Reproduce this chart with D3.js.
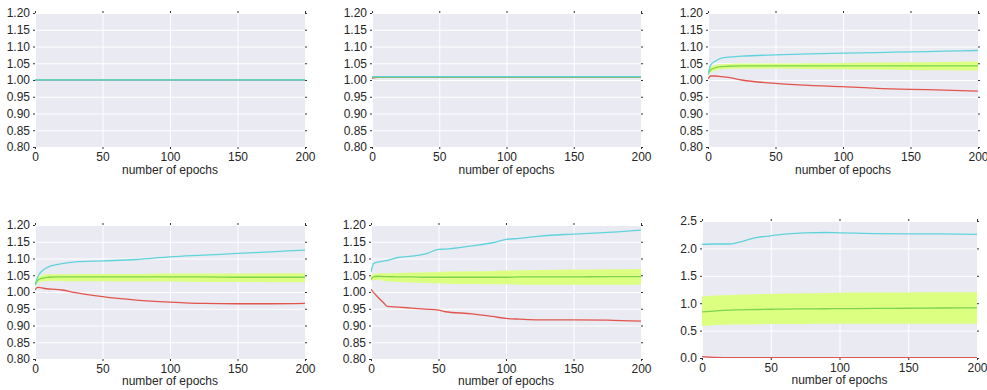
<!DOCTYPE html>
<html>
<head>
<meta charset="utf-8">
<script src="https://cdn.jsdelivr.net/npm/d3@7"></script>
<style>
  body { margin: 0; background: #fff; }
  text { font-family: "Liberation Sans", Arial, sans-serif; }
</style>
</head>
<body>
<svg id="chart" width="987" height="390"></svg>
<script>
// tick values
const xTicks = [0, 50, 100, 150, 200];
const yTicksFine = [0.80, 0.85, 0.90, 0.95, 1.00, 1.05, 1.10, 1.15, 1.20];
const yTicksWide = [0.0, 0.5, 1.0, 1.5, 2.0, 2.5];
const xLabel = 'number of epochs';

// panel 1
const p1Epochs = [0, 200];
const p1Cyan = [1.000, 1.000];
const p1Red = [1.000, 1.000];
const p1Mean = [1.0012, 1.0012];
const p1Lo = [1.0006, 1.0006];
const p1Hi = [1.0018, 1.0018];

// panel 2
const p2Epochs = [0, 2, 5, 200];
const p2Cyan = [1.009, 1.010, 1.010, 1.010];
const p2Red = [1.005, 1.007, 1.008, 1.008];
const p2Mean = [1.008, 1.009, 1.009, 1.009];
const p2Lo = [1.007, 1.008, 1.008, 1.008];
const p2Hi = [1.009, 1.010, 1.010, 1.010];

// panel 3
const p3Epochs = [0, 2, 5, 10, 15, 25, 50, 75, 100, 125, 150, 175, 200];
const p3Cyan = [1.015, 1.045, 1.055, 1.065, 1.068, 1.071, 1.075, 1.078, 1.080, 1.082, 1.084, 1.086, 1.088];
const p3Red = [1.003, 1.012, 1.012, 1.010, 1.008, 1.000, 0.990, 0.984, 0.980, 0.975, 0.972, 0.970, 0.967];
const p3Mean = [1.020, 1.030, 1.036, 1.040, 1.041, 1.042, 1.042, 1.042, 1.042, 1.042, 1.042, 1.042, 1.042];
const p3Lo = [1.015, 1.022, 1.028, 1.032, 1.033, 1.034, 1.034, 1.033, 1.032, 1.031, 1.030, 1.029, 1.028];
const p3Hi = [1.025, 1.038, 1.044, 1.047, 1.048, 1.049, 1.049, 1.050, 1.051, 1.052, 1.053, 1.054, 1.055];

// panel 4
const p4Epochs = [0, 2, 5, 10, 15, 20, 30, 50, 75, 100, 125, 150, 175, 200];
const p4Cyan = [1.021, 1.045, 1.062, 1.075, 1.081, 1.085, 1.090, 1.093, 1.097, 1.105, 1.110, 1.115, 1.120, 1.125];
const p4Red = [1.006, 1.014, 1.012, 1.009, 1.008, 1.006, 0.998, 0.986, 0.976, 0.970, 0.966, 0.965, 0.965, 0.966];
const p4Mean = [1.020, 1.035, 1.041, 1.044, 1.045, 1.045, 1.045, 1.045, 1.045, 1.045, 1.045, 1.044, 1.044, 1.044];
const p4Lo = [1.015, 1.026, 1.031, 1.033, 1.033, 1.033, 1.032, 1.032, 1.031, 1.031, 1.030, 1.030, 1.029, 1.029];
const p4Hi = [1.025, 1.043, 1.050, 1.053, 1.053, 1.053, 1.054, 1.054, 1.054, 1.055, 1.055, 1.055, 1.056, 1.056];

// panel 5
const p5Epochs = [0, 2, 5, 10, 12, 20, 30, 40, 50, 55, 75, 90, 100, 110, 125, 150, 175, 200];
const p5Cyan = [1.060, 1.085, 1.089, 1.093, 1.094, 1.103, 1.107, 1.113, 1.127, 1.128, 1.138, 1.147, 1.157, 1.160, 1.167, 1.173, 1.178, 1.185];
const p5Red = [1.008, 0.998, 0.985, 0.965, 0.957, 0.955, 0.952, 0.949, 0.946, 0.941, 0.935, 0.927, 0.921, 0.919, 0.917, 0.917, 0.916, 0.913];
const p5Mean = [1.038, 1.046, 1.047, 1.046, 1.046, 1.045, 1.045, 1.044, 1.044, 1.044, 1.044, 1.044, 1.044, 1.045, 1.045, 1.045, 1.046, 1.046];
const p5Lo = [1.032, 1.036, 1.036, 1.033, 1.032, 1.030, 1.028, 1.027, 1.026, 1.025, 1.024, 1.023, 1.023, 1.022, 1.022, 1.022, 1.022, 1.022];
const p5Hi = [1.045, 1.054, 1.055, 1.056, 1.056, 1.057, 1.058, 1.059, 1.060, 1.061, 1.062, 1.063, 1.064, 1.065, 1.066, 1.067, 1.068, 1.069];

// panel 6
const p6Epochs = [0, 10, 20, 25, 40, 50, 60, 75, 90, 100, 125, 150, 175, 200];
const p6Cyan = [2.075, 2.080, 2.080, 2.100, 2.200, 2.230, 2.260, 2.285, 2.290, 2.285, 2.270, 2.265, 2.265, 2.255];
const p6Red = [0.025, 0.010, 0.006, 0.006, 0.006, 0.006, 0.006, 0.006, 0.006, 0.006, 0.006, 0.006, 0.006, 0.006];
const p6Mean = [0.840, 0.860, 0.875, 0.880, 0.885, 0.890, 0.893, 0.896, 0.899, 0.900, 0.905, 0.908, 0.912, 0.915];
const p6Lo = [0.580, 0.600, 0.610, 0.610, 0.615, 0.620, 0.620, 0.622, 0.624, 0.625, 0.625, 0.625, 0.625, 0.625];
const p6Hi = [1.120, 1.140, 1.150, 1.155, 1.165, 1.170, 1.175, 1.180, 1.185, 1.190, 1.195, 1.197, 1.200, 1.200];

const panels = [
  { left: 35, right: 305, top: 13, bottom: 147, labelDy: 27, yDomain: [0.8, 1.2], yTicks: yTicksFine, fmt: '.2f',
    epochs: p1Epochs, cyan: p1Cyan, red: p1Red, mean: p1Mean, lo: p1Lo, hi: p1Hi },
  { left: 372, right: 641, top: 13, bottom: 147, labelDy: 27, yDomain: [0.8, 1.2], yTicks: yTicksFine, fmt: '.2f',
    epochs: p2Epochs, cyan: p2Cyan, red: p2Red, mean: p2Mean, lo: p2Lo, hi: p2Hi },
  { left: 708, right: 978, top: 13, bottom: 147, labelDy: 27, yDomain: [0.8, 1.2], yTicks: yTicksFine, fmt: '.2f',
    epochs: p3Epochs, cyan: p3Cyan, red: p3Red, mean: p3Mean, lo: p3Lo, hi: p3Hi },
  { left: 35, right: 305, top: 225, bottom: 359, labelDy: 26, yDomain: [0.8, 1.2], yTicks: yTicksFine, fmt: '.2f',
    epochs: p4Epochs, cyan: p4Cyan, red: p4Red, mean: p4Mean, lo: p4Lo, hi: p4Hi },
  { left: 371, right: 641, top: 225, bottom: 359, labelDy: 26, yDomain: [0.8, 1.2], yTicks: yTicksFine, fmt: '.2f',
    epochs: p5Epochs, cyan: p5Cyan, red: p5Red, mean: p5Mean, lo: p5Lo, hi: p5Hi },
  { left: 702, right: 977, top: 221, bottom: 358, labelDy: 26, yDomain: [0, 2.5], yTicks: yTicksWide, fmt: '.1f',
    epochs: p6Epochs, cyan: p6Cyan, red: p6Red, mean: p6Mean, lo: p6Lo, hi: p6Hi },
];

const svg = d3.select('#chart');

panels.forEach((p) => {
  const w = p.right - p.left, h = p.bottom - p.top;
  const g = svg.append('g').attr('transform', `translate(${p.left},${p.top})`);

  const x = d3.scaleLinear().domain([0, 200]).range([0, w]);
  const y = d3.scaleLinear().domain(p.yDomain).range([h, 0]);

  g.append('rect').attr('width', w).attr('height', h).attr('fill', '#eaeaf2');

  // white grid
  g.append('g')
    .attr('transform', `translate(0,${h})`)
    .call(d3.axisBottom(x).tickValues(xTicks).tickSize(-h).tickFormat(''))
    .call((a) => a.select('.domain').remove())
    .call((a) => a.selectAll('line').attr('stroke', '#fff').attr('stroke-width', 1));
  g.append('g')
    .call(d3.axisLeft(y).tickValues(p.yTicks).tickSize(-w).tickFormat(''))
    .call((a) => a.select('.domain').remove())
    .call((a) => a.selectAll('line').attr('stroke', '#fff').attr('stroke-width', 1));

  const rows = p.epochs.map((e, i) => ({
    e, cyan: p.cyan[i], red: p.red[i], mean: p.mean[i], lo: p.lo[i], hi: p.hi[i],
  }));

  const clip = 'clip' + p.left + '_' + p.top;
  g.append('clipPath').attr('id', clip).append('rect').attr('width', w).attr('height', h);
  const marks = g.append('g').attr('clip-path', `url(#${clip})`);

  const band = d3.area()
    .x((d) => x(d.e)).y0((d) => y(d.lo)).y1((d) => y(d.hi))
    .curve(d3.curveMonotoneX);
  marks.append('path').datum(rows).attr('d', band).attr('fill', '#dcff82');

  const line = (key) => d3.line().x((d) => x(d.e)).y((d) => y(d[key])).curve(d3.curveMonotoneX);
  [['red', '#e2554c'], ['mean', '#7ed44e'], ['cyan', '#5fd3dc']].forEach(([key, col]) => {
    marks.append('path').datum(rows)
      .attr('d', line(key))
      .attr('fill', 'none')
      .attr('stroke', col)
      .attr('stroke-width', 1.3);
  });

  // tick labels and small outer tick marks
  const styleAxis = (a) => {
    a.select('.domain').remove();
    a.selectAll('line').attr('stroke', '#333');
    a.selectAll('text').attr('fill', '#262626').style('font-size', '12px')
      .style('font-family', '"Liberation Sans", Arial, sans-serif');
  };
  g.append('g').attr('transform', `translate(0,${h})`)
    .call(d3.axisBottom(x).tickValues(xTicks).tickSize(2).tickPadding(3))
    .call(styleAxis);
  g.append('g')
    .call(d3.axisLeft(y).tickValues(p.yTicks).tickSize(2).tickPadding(3).tickFormat(d3.format(p.fmt)))
    .call(styleAxis);
  g.append('g')
    .call(d3.axisTop(x).tickValues(xTicks).tickSize(2).tickFormat(''))
    .call(styleAxis);
  g.append('g').attr('transform', `translate(${w},0)`)
    .call(d3.axisRight(y).tickValues(p.yTicks).tickSize(2).tickFormat(''))
    .call(styleAxis);

  g.append('text')
    .attr('x', w / 2).attr('y', h + p.labelDy)
    .attr('text-anchor', 'middle')
    .attr('fill', '#262626')
    .style('font-size', '12px')
    .text(xLabel);
});
</script>
</body>
</html>
